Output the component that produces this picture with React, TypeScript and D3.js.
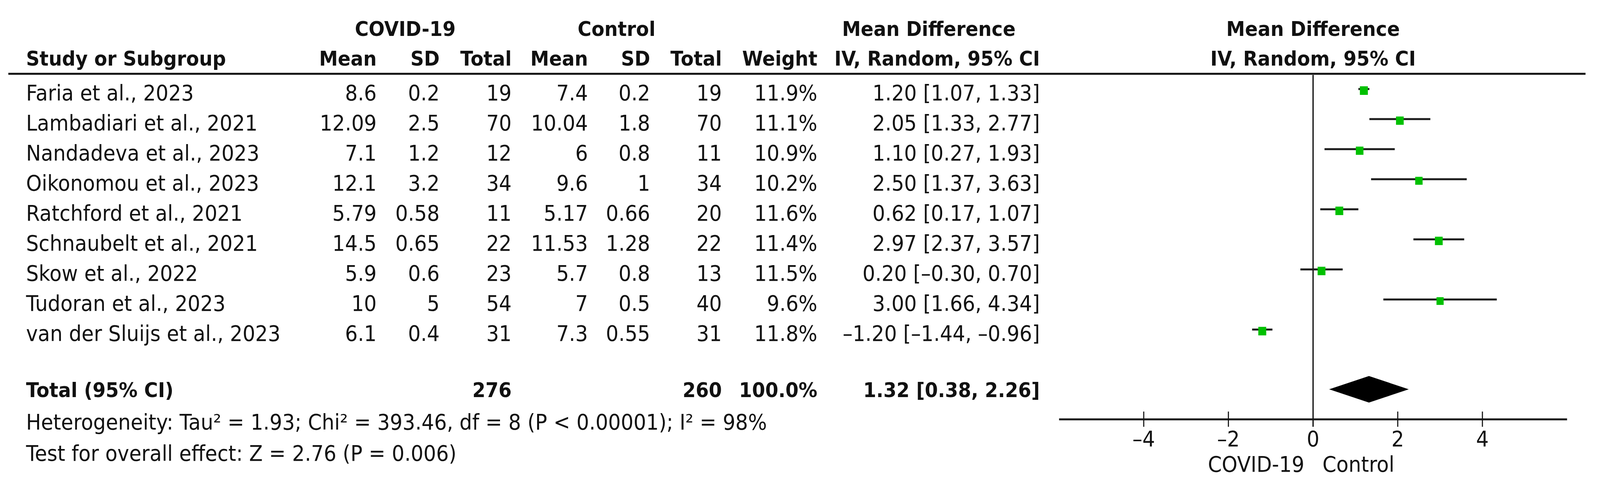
import { useEffect } from 'react';
import * as d3 from 'd3';

// Forest plot: COVID-19 vs Control, mean difference (IV, random, 95% CI)

const studies = [
  'Faria et al., 2023',
  'Lambadiari et al., 2021',
  'Nandadeva et al., 2023',
  'Oikonomou et al., 2023',
  'Ratchford et al., 2021',
  'Schnaubelt et al., 2021',
  'Skow et al., 2022',
  'Tudoran et al., 2023',
  'van der Sluijs et al., 2023',
];
const covidMean = [8.6, 12.09, 7.1, 12.1, 5.79, 14.5, 5.9, 10, 6.1];
const covidSD = [0.2, 2.5, 1.2, 3.2, 0.58, 0.65, 0.6, 5, 0.4];
const covidN = [19, 70, 12, 34, 11, 22, 23, 54, 31];
const ctrlMean = [7.4, 10.04, 6, 9.6, 5.17, 11.53, 5.7, 7, 7.3];
const ctrlSD = [0.2, 1.8, 0.8, 1, 0.66, 1.28, 0.8, 0.5, 0.55];
const ctrlN = [19, 70, 11, 34, 20, 22, 13, 40, 31];
const weights = [11.9, 11.1, 10.9, 10.2, 11.6, 11.4, 11.5, 9.6, 11.8];
const md = [1.2, 2.05, 1.1, 2.5, 0.62, 2.97, 0.2, 3.0, -1.2];
const ciLow = [1.07, 1.33, 0.27, 1.37, 0.17, 2.37, -0.3, 1.66, -1.44];
const ciHigh = [1.33, 2.77, 1.93, 3.63, 1.07, 3.57, 0.7, 4.34, -0.96];

const totalCovidN = 276;
const totalCtrlN = 260;
const totalWeight = 100.0;
const pooled = [1.32, 0.38, 2.26]; // estimate, low, high

const xTicks = [-4, -2, 0, 2, 4];
const heterogeneity = 'Heterogeneity: Tau² = 1.93; Chi² = 393.46, df = 8 (P < 0.00001); I² = 98%';
const overallTest = 'Test for overall effect: Z = 2.76 (P = 0.006)';

const W = 4422;
const H = 1237;
const FONT = "'DejaVu Sans', Verdana, sans-serif";
const FS = 55;
const FSB = 52;

// RevMan prints negatives with a short dash
const dash = (s: string) => s.replace(/\u2212/g, '\u2013');
const fmt2 = (v: number) => dash(d3.format('.2f')(v));
const fmt1 = d3.format('.1f');

export default function App() {
  useEffect(() => {
    document.body.style.margin = '0';
  }, []);

  const x = d3.scaleLinear().domain([-6, 6]).range([2927, 4331]);
  const y = d3.scalePoint<string>().domain(studies).range([257, 873]);
  const size = d3.scaleSqrt().domain([0, d3.max(weights) as number]).range([0, 22]);

  const cols = [
    { x: 1041, vals: covidMean.map(String) },
    { x: 1215, vals: covidSD.map(String) },
    { x: 1414, vals: covidN.map(String) },
    { x: 1625, vals: ctrlMean.map(String) },
    { x: 1797, vals: ctrlSD.map(String) },
    { x: 1995, vals: ctrlN.map(String) },
    { x: 2259, vals: weights.map(w => `${fmt1(w)}%`) },
    { x: 2874, vals: md.map((m, i) => `${fmt2(m)} [${fmt2(ciLow[i])}, ${fmt2(ciHigh[i])}]`) },
  ];
  const subHeads = ['Mean', 'SD', 'Total', 'Mean', 'SD', 'Total', 'Weight', 'IV, Random, 95% CI'];

  const axisY = 1074;
  const totalY = 1017;
  const diamondY = 997;
  const diamond = `M${x(pooled[1])},${diamondY} L${x(pooled[0])},${diamondY - 34} L${x(pooled[2])},${diamondY} L${x(pooled[0])},${diamondY + 34} Z`;

  return (
    <svg viewBox={`0 0 ${W} ${H}`} width="100vw" height="100vh" preserveAspectRatio="none"
      style={{ position: 'fixed', left: 0, top: 0, background: '#fff' }}
      fontFamily={FONT} fill="#111">
      {/* group headers */}
      <g fontWeight="bold" fontSize={FSB} textAnchor="middle">
        <text x={1120} y={92}>COVID-19</text>
        <text x={1704} y={92}>Control</text>
        <text x={2567} y={92}>Mean Difference</text>
        <text x={x(0)} y={92}>Mean Difference</text>
        <text x={x(0)} y={168}>IV, Random, 95% CI</text>
      </g>
      <g fontWeight="bold" fontSize={FSB}>
        <text x={72} y={168}>Study or Subgroup</text>
        {cols.map((c, i) => (
          <text key={i} x={c.x} y={168} textAnchor="end">{subHeads[i]}</text>
        ))}
      </g>
      <line x1={23} x2={4382} y1={189} y2={189} stroke="#111" strokeWidth={5} />

      {/* study rows */}
      <g fontSize={FS}>
        {studies.map(s => (
          <text key={s} x={72} y={y(s)}>{s}</text>
        ))}
        {cols.map((c, ci) =>
          c.vals.map((v, i) => (
            <text key={`${ci}-${i}`} x={c.x} y={y(studies[i])} textAnchor="end">{v}</text>
          ))
        )}
      </g>

      {/* totals */}
      <g fontSize={FSB} fontWeight="bold">
        <text x={72} y={totalY}>Total (95% CI)</text>
        <text x={cols[2].x} y={totalY} textAnchor="end">{totalCovidN}</text>
        <text x={cols[5].x} y={totalY} textAnchor="end">{totalCtrlN}</text>
        <text x={cols[6].x} y={totalY} textAnchor="end">{`${fmt1(totalWeight)}%`}</text>
        <text x={cols[7].x} y={totalY} textAnchor="end">
          {`${fmt2(pooled[0])} [${fmt2(pooled[1])}, ${fmt2(pooled[2])}]`}
        </text>
      </g>
      <g fontSize={FS}>
        <text x={72} y={1100}>{heterogeneity}</text>
        <text x={72} y={1180}>{overallTest}</text>
      </g>

      {/* plot */}
      <line x1={x(0)} x2={x(0)} y1={192} y2={axisY + 19} stroke="#111" strokeWidth={3.5} />
      {studies.map((s, i) => {
        const cy = (y(s) as number) - 25;
        const sz = size(weights[i]);
        return (
          <g key={s}>
            <line x1={x(ciLow[i])} x2={x(ciHigh[i])} y1={cy - 4} y2={cy - 4} stroke="#1a1a1a" strokeWidth={5} />
            <rect x={x(md[i]) - sz / 2} y={cy - sz / 2} width={sz} height={sz} fill="#00c000" />
          </g>
        );
      })}
      <path d={diamond} fill="#000" />

      {/* axis */}
      <line x1={x.range()[0]} x2={x.range()[1]} y1={axisY} y2={axisY} stroke="#1a1a1a" strokeWidth={5} />
      <g fontSize={FS} textAnchor="middle">
        {xTicks.map(t => (
          <g key={t}>
            <line x1={x(t)} x2={x(t)} y1={axisY - 20} y2={axisY + 19} stroke="#111" strokeWidth={3} />
            <text x={x(t)} y={1143}>{dash(d3.format('d')(t))}</text>
          </g>
        ))}
        <text x={x(0) - 24} y={1208} textAnchor="end">COVID-19</text>
        <text x={x(0) + 26} y={1208} textAnchor="start">Control</text>
      </g>
    </svg>
  );
}
